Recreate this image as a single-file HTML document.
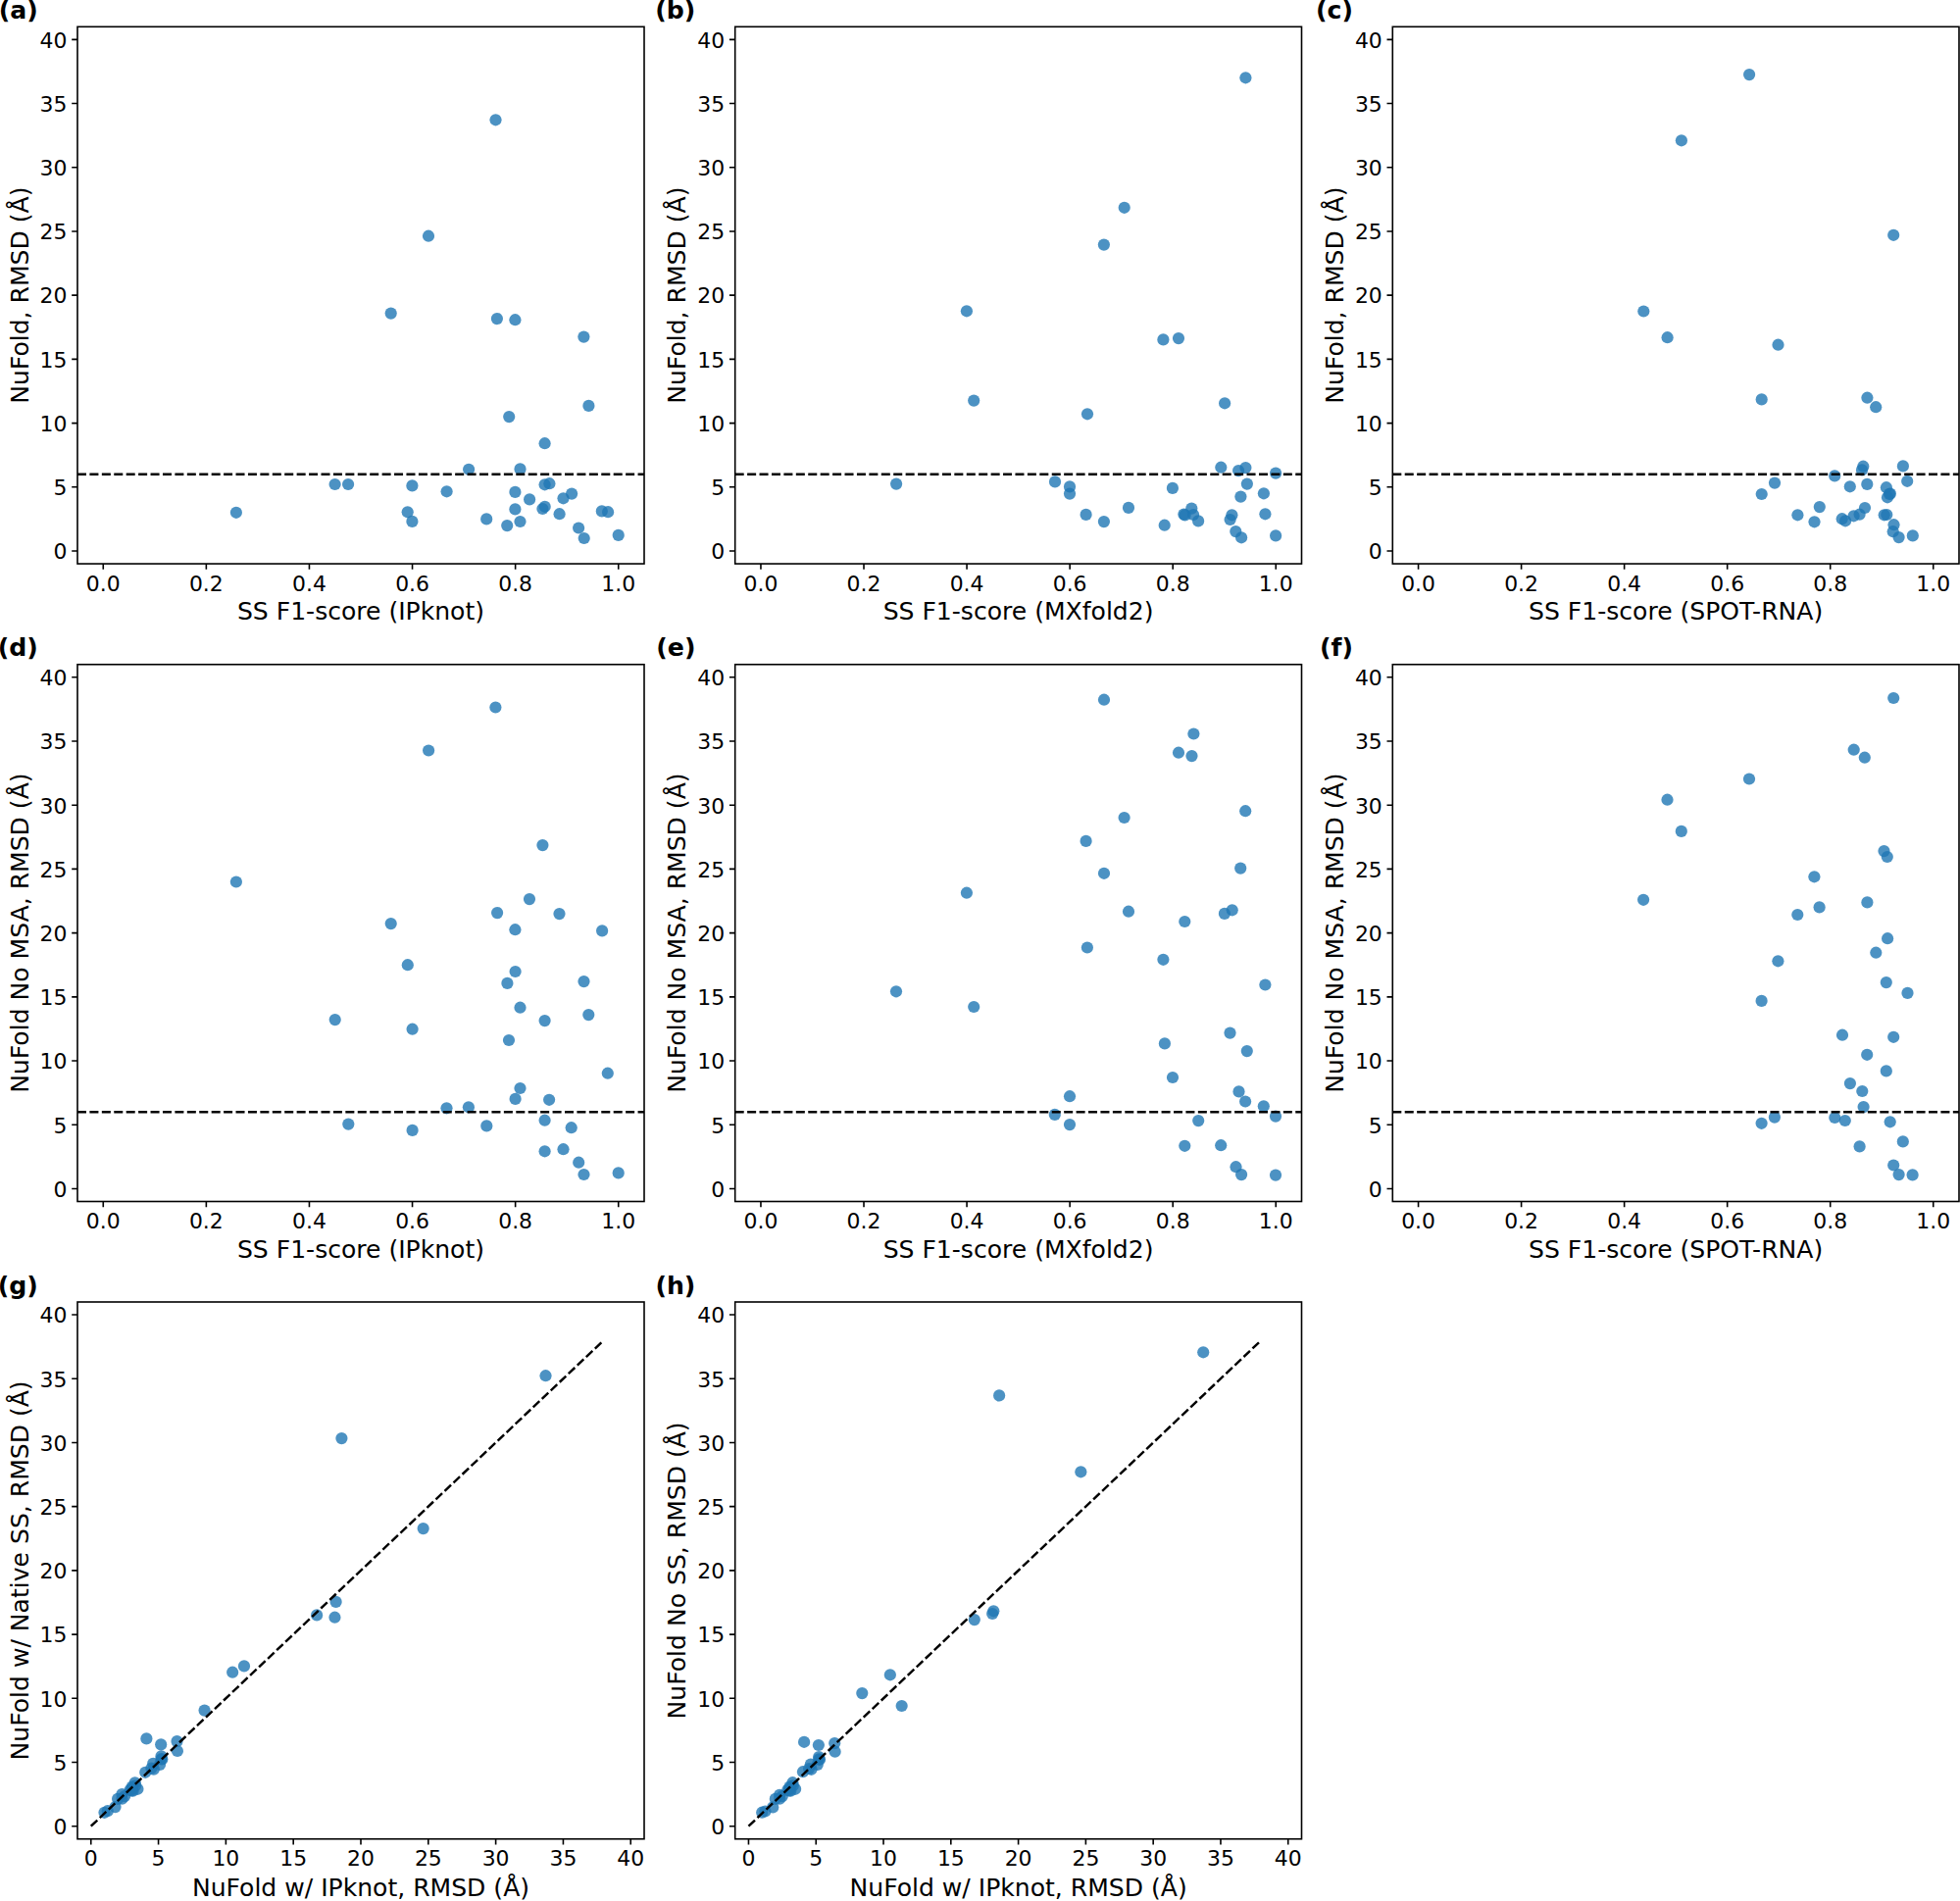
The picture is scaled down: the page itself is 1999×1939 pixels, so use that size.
<!DOCTYPE html>
<html lang="en"><head><meta charset="utf-8"><title>NuFold RMSD vs secondary structure F1-score</title>
<style>html,body{margin:0;padding:0;background:#fff}body{width:1999px;height:1939px;overflow:hidden}svg{display:block}
text{font-family:"DejaVu Sans","Liberation Sans",sans-serif;fill:#000}.t{font-size:21.9px}.l{font-size:25.07px}.p{font-size:25.2px;font-weight:bold}
.ax{fill:none;stroke:#000;stroke-width:1.6}.tk{stroke:#000;stroke-width:1.6}.d{fill:#1f77b4;fill-opacity:.8}.dl{stroke:#000;stroke-width:2.45;stroke-dasharray:9.0 3.425;fill:none}
</style></head><body>
<svg width="1999" height="1939" viewBox="0 0 1999 1939">
<rect width="1999" height="1939" fill="#fff"/>
<g id="panel-a">
<g class="d"><circle cx="505.5" cy="122.3" r="6.1"/><circle cx="437" cy="240.7" r="6.1"/><circle cx="398.7" cy="319.6" r="6.1"/><circle cx="506.9" cy="325.1" r="6.1"/><circle cx="525.4" cy="326.2" r="6.1"/><circle cx="595.4" cy="343.6" r="6.1"/><circle cx="600.4" cy="413.9" r="6.1"/><circle cx="519.2" cy="425.1" r="6.1"/><circle cx="555.6" cy="452.2" r="6.1"/><circle cx="478.1" cy="478.8" r="6.1"/><circle cx="530.5" cy="478.4" r="6.1"/><circle cx="555.6" cy="494.3" r="6.1"/><circle cx="560.4" cy="493.2" r="6.1"/><circle cx="525.4" cy="501.9" r="6.1"/><circle cx="583.1" cy="503.6" r="6.1"/><circle cx="574.5" cy="508.3" r="6.1"/><circle cx="540.1" cy="509.4" r="6.1"/><circle cx="555.7" cy="516.8" r="6.1"/><circle cx="553.4" cy="519" r="6.1"/><circle cx="525.4" cy="519.4" r="6.1"/><circle cx="570.6" cy="524.2" r="6.1"/><circle cx="613.8" cy="521.4" r="6.1"/><circle cx="620.1" cy="522.2" r="6.1"/><circle cx="496.2" cy="529.4" r="6.1"/><circle cx="530.5" cy="532" r="6.1"/><circle cx="517.2" cy="536.1" r="6.1"/><circle cx="590.1" cy="538.5" r="6.1"/><circle cx="595.7" cy="549" r="6.1"/><circle cx="630.7" cy="545.9" r="6.1"/><circle cx="240.9" cy="522.8" r="6.1"/><circle cx="341.6" cy="494" r="6.1"/><circle cx="355.1" cy="494" r="6.1"/><circle cx="420.4" cy="495.4" r="6.1"/><circle cx="455.6" cy="501.3" r="6.1"/><circle cx="415.7" cy="522.3" r="6.1"/><circle cx="420.4" cy="531.9" r="6.1"/></g>
<path class="dl" d="M79 483.76H657"/>
<path class="tk" d="M105.27 575.05v5.8M210.36 575.05v5.8M315.45 575.05v5.8M420.55 575.05v5.8M525.64 575.05v5.8M630.73 575.05v5.8M79 562.01h-5.8M79 496.8h-5.8M79 431.59h-5.8M79 366.38h-5.8M79 301.17h-5.8M79 235.97h-5.8M79 170.76h-5.8M79 105.55h-5.8M79 40.34h-5.8"/>
<rect class="ax" x="79" y="27.3" width="578" height="547.75"/>
<g class="t" text-anchor="middle"><text x="105.27" y="602.65">0.0</text><text x="210.36" y="602.65">0.2</text><text x="315.45" y="602.65">0.4</text><text x="420.55" y="602.65">0.6</text><text x="525.64" y="602.65">0.8</text><text x="630.73" y="602.65">1.0</text></g>
<g class="t" text-anchor="end"><text x="68.45" y="570.31">0</text><text x="68.45" y="505.1">5</text><text x="68.45" y="439.89">10</text><text x="68.45" y="374.68">15</text><text x="68.45" y="309.47">20</text><text x="68.45" y="244.27">25</text><text x="68.45" y="179.06">30</text><text x="68.45" y="113.85">35</text><text x="68.45" y="48.64">40</text></g>
<text class="l" text-anchor="middle" x="368" y="632.35">SS F1-score (IPknot)</text>
<text class="l" text-anchor="middle" transform="translate(28.6 301.17) rotate(-90)">NuFold, RMSD (Å)</text>
<text class="p" text-anchor="end" x="38.7" y="19.4">(a)</text>
</g>
<g id="panel-b">
<g class="d"><circle cx="1270.4" cy="79.3" r="6.1"/><circle cx="1146.7" cy="211.8" r="6.1"/><circle cx="1125.9" cy="249.6" r="6.1"/><circle cx="985.9" cy="317.3" r="6.1"/><circle cx="1186.4" cy="346.4" r="6.1"/><circle cx="1202" cy="345.1" r="6.1"/><circle cx="1109" cy="422.3" r="6.1"/><circle cx="1249.1" cy="411.3" r="6.1"/><circle cx="1245.3" cy="476.7" r="6.1"/><circle cx="1263.1" cy="480.1" r="6.1"/><circle cx="1270.4" cy="477.1" r="6.1"/><circle cx="1301.1" cy="482.6" r="6.1"/><circle cx="1076" cy="491.4" r="6.1"/><circle cx="1091" cy="496.4" r="6.1"/><circle cx="1091" cy="503.6" r="6.1"/><circle cx="1195.9" cy="497.9" r="6.1"/><circle cx="1271.9" cy="493.6" r="6.1"/><circle cx="1288.9" cy="503.3" r="6.1"/><circle cx="1265.4" cy="506.6" r="6.1"/><circle cx="1151" cy="517.9" r="6.1"/><circle cx="1107.6" cy="524.9" r="6.1"/><circle cx="1125.9" cy="532.1" r="6.1"/><circle cx="1215.3" cy="518.6" r="6.1"/><circle cx="1207.4" cy="524.6" r="6.1"/><circle cx="1208.6" cy="525.4" r="6.1"/><circle cx="1217.1" cy="525" r="6.1"/><circle cx="1222.1" cy="531.4" r="6.1"/><circle cx="1187.7" cy="535.7" r="6.1"/><circle cx="1256.4" cy="525.3" r="6.1"/><circle cx="1254.6" cy="530" r="6.1"/><circle cx="1290.4" cy="524.3" r="6.1"/><circle cx="1260.3" cy="542.1" r="6.1"/><circle cx="1266.1" cy="548.3" r="6.1"/><circle cx="1301.1" cy="546.4" r="6.1"/><circle cx="993.2" cy="408.6" r="6.1"/><circle cx="914.1" cy="493.6" r="6.1"/></g>
<path class="dl" d="M749.7 483.76H1327.5"/>
<path class="tk" d="M775.96 575.05v5.8M881.02 575.05v5.8M986.07 575.05v5.8M1091.13 575.05v5.8M1196.18 575.05v5.8M1301.24 575.05v5.8M749.7 562.01h-5.8M749.7 496.8h-5.8M749.7 431.59h-5.8M749.7 366.38h-5.8M749.7 301.17h-5.8M749.7 235.97h-5.8M749.7 170.76h-5.8M749.7 105.55h-5.8M749.7 40.34h-5.8"/>
<rect class="ax" x="749.7" y="27.3" width="577.8" height="547.75"/>
<g class="t" text-anchor="middle"><text x="775.96" y="602.65">0.0</text><text x="881.02" y="602.65">0.2</text><text x="986.07" y="602.65">0.4</text><text x="1091.13" y="602.65">0.6</text><text x="1196.18" y="602.65">0.8</text><text x="1301.24" y="602.65">1.0</text></g>
<g class="t" text-anchor="end"><text x="739.15" y="570.31">0</text><text x="739.15" y="505.1">5</text><text x="739.15" y="439.89">10</text><text x="739.15" y="374.68">15</text><text x="739.15" y="309.47">20</text><text x="739.15" y="244.27">25</text><text x="739.15" y="179.06">30</text><text x="739.15" y="113.85">35</text><text x="739.15" y="48.64">40</text></g>
<text class="l" text-anchor="middle" x="1038.6" y="632.35">SS F1-score (MXfold2)</text>
<text class="l" text-anchor="middle" transform="translate(699.3 301.17) rotate(-90)">NuFold, RMSD (Å)</text>
<text class="p" text-anchor="end" x="709.4" y="19.4">(b)</text>
</g>
<g id="panel-c">
<g class="d"><circle cx="1784.1" cy="76.1" r="6.1"/><circle cx="1714.9" cy="143.3" r="6.1"/><circle cx="1931.2" cy="239.8" r="6.1"/><circle cx="1676.3" cy="317.5" r="6.1"/><circle cx="1700.6" cy="344.2" r="6.1"/><circle cx="1813.5" cy="351.7" r="6.1"/><circle cx="1796.7" cy="407.4" r="6.1"/><circle cx="1904.4" cy="405.7" r="6.1"/><circle cx="1913.2" cy="415.2" r="6.1"/><circle cx="1900.3" cy="475.7" r="6.1"/><circle cx="1899" cy="479.4" r="6.1"/><circle cx="1940.9" cy="475.4" r="6.1"/><circle cx="1871.2" cy="485.4" r="6.1"/><circle cx="1810" cy="492.6" r="6.1"/><circle cx="1945.2" cy="490.8" r="6.1"/><circle cx="1904.3" cy="493.9" r="6.1"/><circle cx="1886.8" cy="496.3" r="6.1"/><circle cx="1923.9" cy="497.2" r="6.1"/><circle cx="1927.9" cy="503.6" r="6.1"/><circle cx="1927" cy="503.9" r="6.1"/><circle cx="1925" cy="507.3" r="6.1"/><circle cx="1796.7" cy="504" r="6.1"/><circle cx="1855.8" cy="517.1" r="6.1"/><circle cx="1902" cy="518" r="6.1"/><circle cx="1833.4" cy="525.3" r="6.1"/><circle cx="1850.5" cy="532.3" r="6.1"/><circle cx="1890.6" cy="526.3" r="6.1"/><circle cx="1896.6" cy="524.7" r="6.1"/><circle cx="1878.7" cy="529.2" r="6.1"/><circle cx="1882.1" cy="531.3" r="6.1"/><circle cx="1921.7" cy="525.3" r="6.1"/><circle cx="1924.3" cy="525" r="6.1"/><circle cx="1931.5" cy="535.2" r="6.1"/><circle cx="1930.7" cy="542.2" r="6.1"/><circle cx="1936.6" cy="548.1" r="6.1"/><circle cx="1950.8" cy="546.4" r="6.1"/></g>
<path class="dl" d="M1420.3 483.76H1998"/>
<path class="tk" d="M1446.56 575.05v5.8M1551.6 575.05v5.8M1656.63 575.05v5.8M1761.67 575.05v5.8M1866.7 575.05v5.8M1971.74 575.05v5.8M1420.3 562.01h-5.8M1420.3 496.8h-5.8M1420.3 431.59h-5.8M1420.3 366.38h-5.8M1420.3 301.17h-5.8M1420.3 235.97h-5.8M1420.3 170.76h-5.8M1420.3 105.55h-5.8M1420.3 40.34h-5.8"/>
<rect class="ax" x="1420.3" y="27.3" width="577.7" height="547.75"/>
<g class="t" text-anchor="middle"><text x="1446.56" y="602.65">0.0</text><text x="1551.6" y="602.65">0.2</text><text x="1656.63" y="602.65">0.4</text><text x="1761.67" y="602.65">0.6</text><text x="1866.7" y="602.65">0.8</text><text x="1971.74" y="602.65">1.0</text></g>
<g class="t" text-anchor="end"><text x="1409.75" y="570.31">0</text><text x="1409.75" y="505.1">5</text><text x="1409.75" y="439.89">10</text><text x="1409.75" y="374.68">15</text><text x="1409.75" y="309.47">20</text><text x="1409.75" y="244.27">25</text><text x="1409.75" y="179.06">30</text><text x="1409.75" y="113.85">35</text><text x="1409.75" y="48.64">40</text></g>
<text class="l" text-anchor="middle" x="1709.15" y="632.35">SS F1-score (SPOT-RNA)</text>
<text class="l" text-anchor="middle" transform="translate(1369.9 301.17) rotate(-90)">NuFold, RMSD (Å)</text>
<text class="p" text-anchor="end" x="1380" y="19.4">(c)</text>
</g>
<g id="panel-d">
<g class="d"><circle cx="505.4" cy="721.5" r="6.1"/><circle cx="437.1" cy="765.5" r="6.1"/><circle cx="553.4" cy="862.1" r="6.1"/><circle cx="540" cy="917.1" r="6.1"/><circle cx="507.1" cy="931.1" r="6.1"/><circle cx="570.5" cy="932.1" r="6.1"/><circle cx="525.4" cy="948.2" r="6.1"/><circle cx="614.1" cy="949.4" r="6.1"/><circle cx="398.7" cy="942.1" r="6.1"/><circle cx="415.8" cy="984.2" r="6.1"/><circle cx="525.6" cy="991" r="6.1"/><circle cx="517.4" cy="1002.9" r="6.1"/><circle cx="595.5" cy="1001.1" r="6.1"/><circle cx="530.5" cy="1027.7" r="6.1"/><circle cx="600.3" cy="1035.1" r="6.1"/><circle cx="555.6" cy="1041.1" r="6.1"/><circle cx="420.6" cy="1049.7" r="6.1"/><circle cx="519" cy="1061" r="6.1"/><circle cx="619.8" cy="1094.7" r="6.1"/><circle cx="530.5" cy="1110" r="6.1"/><circle cx="525.6" cy="1120.9" r="6.1"/><circle cx="560.1" cy="1121.8" r="6.1"/><circle cx="455.5" cy="1130.3" r="6.1"/><circle cx="477.9" cy="1129.3" r="6.1"/><circle cx="555.6" cy="1142.7" r="6.1"/><circle cx="496.3" cy="1148.4" r="6.1"/><circle cx="582.7" cy="1150.2" r="6.1"/><circle cx="420.6" cy="1152.9" r="6.1"/><circle cx="555.6" cy="1174.3" r="6.1"/><circle cx="574.5" cy="1172.2" r="6.1"/><circle cx="590.2" cy="1185.7" r="6.1"/><circle cx="595.5" cy="1198" r="6.1"/><circle cx="630.7" cy="1196.4" r="6.1"/><circle cx="240.9" cy="899.5" r="6.1"/><circle cx="341.7" cy="1040.1" r="6.1"/><circle cx="355.3" cy="1146.6" r="6.1"/></g>
<path class="dl" d="M79 1134.21H657"/>
<path class="tk" d="M105.27 1225.5v5.8M210.36 1225.5v5.8M315.45 1225.5v5.8M420.55 1225.5v5.8M525.64 1225.5v5.8M630.73 1225.5v5.8M79 1212.46h-5.8M79 1147.25h-5.8M79 1082.04h-5.8M79 1016.83h-5.8M79 951.62h-5.8M79 886.42h-5.8M79 821.21h-5.8M79 756h-5.8M79 690.79h-5.8"/>
<rect class="ax" x="79" y="677.75" width="578" height="547.75"/>
<g class="t" text-anchor="middle"><text x="105.27" y="1253.1">0.0</text><text x="210.36" y="1253.1">0.2</text><text x="315.45" y="1253.1">0.4</text><text x="420.55" y="1253.1">0.6</text><text x="525.64" y="1253.1">0.8</text><text x="630.73" y="1253.1">1.0</text></g>
<g class="t" text-anchor="end"><text x="68.45" y="1220.76">0</text><text x="68.45" y="1155.55">5</text><text x="68.45" y="1090.34">10</text><text x="68.45" y="1025.13">15</text><text x="68.45" y="959.92">20</text><text x="68.45" y="894.72">25</text><text x="68.45" y="829.51">30</text><text x="68.45" y="764.3">35</text><text x="68.45" y="699.09">40</text></g>
<text class="l" text-anchor="middle" x="368" y="1282.8">SS F1-score (IPknot)</text>
<text class="l" text-anchor="middle" transform="translate(28.6 951.62) rotate(-90)">NuFold No MSA, RMSD (Å)</text>
<text class="p" text-anchor="end" x="38.7" y="669.35">(d)</text>
</g>
<g id="panel-e">
<g class="d"><circle cx="1126" cy="713.7" r="6.1"/><circle cx="1217.4" cy="748.5" r="6.1"/><circle cx="1202" cy="767.7" r="6.1"/><circle cx="1215.5" cy="771.1" r="6.1"/><circle cx="1270.2" cy="827.2" r="6.1"/><circle cx="1146.6" cy="834" r="6.1"/><circle cx="1107.6" cy="857.9" r="6.1"/><circle cx="1265.2" cy="885.6" r="6.1"/><circle cx="1126" cy="890.8" r="6.1"/><circle cx="1151" cy="929.7" r="6.1"/><circle cx="1256.7" cy="928.3" r="6.1"/><circle cx="1248.9" cy="931.9" r="6.1"/><circle cx="1208.3" cy="940" r="6.1"/><circle cx="1108.9" cy="966.5" r="6.1"/><circle cx="1186.4" cy="978.8" r="6.1"/><circle cx="1290.4" cy="1004.5" r="6.1"/><circle cx="1254.5" cy="1053.6" r="6.1"/><circle cx="1187.9" cy="1064.4" r="6.1"/><circle cx="1271.8" cy="1072.1" r="6.1"/><circle cx="1196" cy="1099" r="6.1"/><circle cx="1263.5" cy="1113.4" r="6.1"/><circle cx="1091" cy="1118.2" r="6.1"/><circle cx="1270.1" cy="1123.5" r="6.1"/><circle cx="1288.8" cy="1128.3" r="6.1"/><circle cx="1075.8" cy="1136.9" r="6.1"/><circle cx="1301" cy="1138.6" r="6.1"/><circle cx="1222.2" cy="1143.1" r="6.1"/><circle cx="1091" cy="1147.1" r="6.1"/><circle cx="1208.3" cy="1168.8" r="6.1"/><circle cx="1245.2" cy="1168.2" r="6.1"/><circle cx="1260.5" cy="1190.2" r="6.1"/><circle cx="1266.1" cy="1198.1" r="6.1"/><circle cx="1301" cy="1198.6" r="6.1"/><circle cx="985.9" cy="910.7" r="6.1"/><circle cx="914" cy="1011.3" r="6.1"/><circle cx="993.2" cy="1027" r="6.1"/></g>
<path class="dl" d="M749.7 1134.21H1327.5"/>
<path class="tk" d="M775.96 1225.5v5.8M881.02 1225.5v5.8M986.07 1225.5v5.8M1091.13 1225.5v5.8M1196.18 1225.5v5.8M1301.24 1225.5v5.8M749.7 1212.46h-5.8M749.7 1147.25h-5.8M749.7 1082.04h-5.8M749.7 1016.83h-5.8M749.7 951.62h-5.8M749.7 886.42h-5.8M749.7 821.21h-5.8M749.7 756h-5.8M749.7 690.79h-5.8"/>
<rect class="ax" x="749.7" y="677.75" width="577.8" height="547.75"/>
<g class="t" text-anchor="middle"><text x="775.96" y="1253.1">0.0</text><text x="881.02" y="1253.1">0.2</text><text x="986.07" y="1253.1">0.4</text><text x="1091.13" y="1253.1">0.6</text><text x="1196.18" y="1253.1">0.8</text><text x="1301.24" y="1253.1">1.0</text></g>
<g class="t" text-anchor="end"><text x="739.15" y="1220.76">0</text><text x="739.15" y="1155.55">5</text><text x="739.15" y="1090.34">10</text><text x="739.15" y="1025.13">15</text><text x="739.15" y="959.92">20</text><text x="739.15" y="894.72">25</text><text x="739.15" y="829.51">30</text><text x="739.15" y="764.3">35</text><text x="739.15" y="699.09">40</text></g>
<text class="l" text-anchor="middle" x="1038.6" y="1282.8">SS F1-score (MXfold2)</text>
<text class="l" text-anchor="middle" transform="translate(699.3 951.62) rotate(-90)">NuFold No MSA, RMSD (Å)</text>
<text class="p" text-anchor="end" x="709.4" y="669.35">(e)</text>
</g>
<g id="panel-f">
<g class="d"><circle cx="1931.2" cy="712" r="6.1"/><circle cx="1890.7" cy="764.7" r="6.1"/><circle cx="1901.8" cy="772.7" r="6.1"/><circle cx="1784" cy="794.5" r="6.1"/><circle cx="1700.5" cy="815.7" r="6.1"/><circle cx="1714.8" cy="847.9" r="6.1"/><circle cx="1921.5" cy="868.1" r="6.1"/><circle cx="1924.8" cy="874" r="6.1"/><circle cx="1850.4" cy="894.3" r="6.1"/><circle cx="1676.1" cy="917.8" r="6.1"/><circle cx="1904.4" cy="920.4" r="6.1"/><circle cx="1855.6" cy="925.4" r="6.1"/><circle cx="1833.3" cy="933" r="6.1"/><circle cx="1925.1" cy="957.2" r="6.1"/><circle cx="1913.3" cy="971.7" r="6.1"/><circle cx="1813.4" cy="980.3" r="6.1"/><circle cx="1923.8" cy="1002.1" r="6.1"/><circle cx="1945.5" cy="1012.9" r="6.1"/><circle cx="1796.6" cy="1020.9" r="6.1"/><circle cx="1879" cy="1055.7" r="6.1"/><circle cx="1931.2" cy="1057.8" r="6.1"/><circle cx="1904.2" cy="1075.8" r="6.1"/><circle cx="1923.8" cy="1092.4" r="6.1"/><circle cx="1886.9" cy="1105.1" r="6.1"/><circle cx="1899.3" cy="1113" r="6.1"/><circle cx="1900.6" cy="1129.1" r="6.1"/><circle cx="1809.9" cy="1139.6" r="6.1"/><circle cx="1796.6" cy="1145.8" r="6.1"/><circle cx="1871.3" cy="1140" r="6.1"/><circle cx="1881.8" cy="1143" r="6.1"/><circle cx="1927.7" cy="1144.3" r="6.1"/><circle cx="1940.8" cy="1164.4" r="6.1"/><circle cx="1896.6" cy="1169.4" r="6.1"/><circle cx="1931.2" cy="1188.5" r="6.1"/><circle cx="1936.6" cy="1198.1" r="6.1"/><circle cx="1950.6" cy="1198.4" r="6.1"/></g>
<path class="dl" d="M1420.3 1134.21H1998"/>
<path class="tk" d="M1446.56 1225.5v5.8M1551.6 1225.5v5.8M1656.63 1225.5v5.8M1761.67 1225.5v5.8M1866.7 1225.5v5.8M1971.74 1225.5v5.8M1420.3 1212.46h-5.8M1420.3 1147.25h-5.8M1420.3 1082.04h-5.8M1420.3 1016.83h-5.8M1420.3 951.62h-5.8M1420.3 886.42h-5.8M1420.3 821.21h-5.8M1420.3 756h-5.8M1420.3 690.79h-5.8"/>
<rect class="ax" x="1420.3" y="677.75" width="577.7" height="547.75"/>
<g class="t" text-anchor="middle"><text x="1446.56" y="1253.1">0.0</text><text x="1551.6" y="1253.1">0.2</text><text x="1656.63" y="1253.1">0.4</text><text x="1761.67" y="1253.1">0.6</text><text x="1866.7" y="1253.1">0.8</text><text x="1971.74" y="1253.1">1.0</text></g>
<g class="t" text-anchor="end"><text x="1409.75" y="1220.76">0</text><text x="1409.75" y="1155.55">5</text><text x="1409.75" y="1090.34">10</text><text x="1409.75" y="1025.13">15</text><text x="1409.75" y="959.92">20</text><text x="1409.75" y="894.72">25</text><text x="1409.75" y="829.51">30</text><text x="1409.75" y="764.3">35</text><text x="1409.75" y="699.09">40</text></g>
<text class="l" text-anchor="middle" x="1709.15" y="1282.8">SS F1-score (SPOT-RNA)</text>
<text class="l" text-anchor="middle" transform="translate(1369.9 951.62) rotate(-90)">NuFold No MSA, RMSD (Å)</text>
<text class="p" text-anchor="end" x="1380" y="669.35">(f)</text>
</g>
<g id="panel-g">
<g class="d"><circle cx="556.51" cy="1403.2" r="6.1"/><circle cx="431.64" cy="1559.1" r="6.1"/><circle cx="348.42" cy="1467.1" r="6.1"/><circle cx="342.62" cy="1633.9" r="6.1"/><circle cx="341.46" cy="1649.7" r="6.1"/><circle cx="323.11" cy="1647.4" r="6.1"/><circle cx="248.97" cy="1699.4" r="6.1"/><circle cx="237.15" cy="1705.7" r="6.1"/><circle cx="208.57" cy="1744.6" r="6.1"/><circle cx="180.52" cy="1776.1" r="6.1"/><circle cx="180.94" cy="1786" r="6.1"/><circle cx="164.17" cy="1779.4" r="6.1"/><circle cx="165.33" cy="1794.5" r="6.1"/><circle cx="156.15" cy="1798.9" r="6.1"/><circle cx="154.36" cy="1803.7" r="6.1"/><circle cx="149.4" cy="1773.4" r="6.1"/><circle cx="148.24" cy="1807.8" r="6.1"/><circle cx="140.44" cy="1824.8" r="6.1"/><circle cx="138.12" cy="1821.3" r="6.1"/><circle cx="137.7" cy="1818.3" r="6.1"/><circle cx="132.63" cy="1825.8" r="6.1"/><circle cx="135.59" cy="1826.7" r="6.1"/><circle cx="134.74" cy="1822.6" r="6.1"/><circle cx="127.15" cy="1832.1" r="6.1"/><circle cx="124.41" cy="1830.1" r="6.1"/><circle cx="120.08" cy="1834.9" r="6.1"/><circle cx="117.55" cy="1843.1" r="6.1"/><circle cx="106.48" cy="1848.8" r="6.1"/><circle cx="109.75" cy="1847.2" r="6.1"/><circle cx="134.11" cy="1826.4" r="6.1"/><circle cx="164.48" cy="1791.4" r="6.1"/><circle cx="164.48" cy="1794.2" r="6.1"/><circle cx="163.01" cy="1799.9" r="6.1"/><circle cx="156.79" cy="1804.6" r="6.1"/><circle cx="134.64" cy="1824.2" r="6.1"/><circle cx="124.51" cy="1834.6" r="6.1"/></g>
<path class="dl" d="M92.76 1862.71L613.93 1368.82"/>
<path class="tk" d="M92.76 1875.75v5.8M161.57 1875.75v5.8M230.38 1875.75v5.8M299.19 1875.75v5.8M368 1875.75v5.8M436.81 1875.75v5.8M505.62 1875.75v5.8M574.43 1875.75v5.8M643.24 1875.75v5.8M79 1862.71h-5.8M79 1797.5h-5.8M79 1732.29h-5.8M79 1667.08h-5.8M79 1601.88h-5.8M79 1536.67h-5.8M79 1471.46h-5.8M79 1406.25h-5.8M79 1341.04h-5.8"/>
<rect class="ax" x="79" y="1328" width="578" height="547.75"/>
<g class="t" text-anchor="middle"><text x="92.76" y="1903.35">0</text><text x="161.57" y="1903.35">5</text><text x="230.38" y="1903.35">10</text><text x="299.19" y="1903.35">15</text><text x="368" y="1903.35">20</text><text x="436.81" y="1903.35">25</text><text x="505.62" y="1903.35">30</text><text x="574.43" y="1903.35">35</text><text x="643.24" y="1903.35">40</text></g>
<g class="t" text-anchor="end"><text x="68.45" y="1871.01">0</text><text x="68.45" y="1805.8">5</text><text x="68.45" y="1740.59">10</text><text x="68.45" y="1675.38">15</text><text x="68.45" y="1610.17">20</text><text x="68.45" y="1544.97">25</text><text x="68.45" y="1479.76">30</text><text x="68.45" y="1414.55">35</text><text x="68.45" y="1349.34">40</text></g>
<text class="l" text-anchor="middle" x="368" y="1934.35">NuFold w/ IPknot, RMSD (Å)</text>
<text class="l" text-anchor="middle" transform="translate(28.6 1601.88) rotate(-90)">NuFold w/ Native SS, RMSD (Å)</text>
<text class="p" text-anchor="end" x="38.7" y="1319.6">(g)</text>
</g>
<g id="panel-h">
<g class="d"><circle cx="1227.21" cy="1379.3" r="6.1"/><circle cx="1102.34" cy="1501.3" r="6.1"/><circle cx="1019.12" cy="1423.4" r="6.1"/><circle cx="1013.32" cy="1643.3" r="6.1"/><circle cx="1012.16" cy="1646" r="6.1"/><circle cx="993.81" cy="1652.1" r="6.1"/><circle cx="919.67" cy="1740" r="6.1"/><circle cx="907.85" cy="1708.3" r="6.1"/><circle cx="879.27" cy="1727.1" r="6.1"/><circle cx="851.22" cy="1778.1" r="6.1"/><circle cx="851.64" cy="1786.7" r="6.1"/><circle cx="834.87" cy="1780" r="6.1"/><circle cx="836.03" cy="1794.8" r="6.1"/><circle cx="826.85" cy="1799.5" r="6.1"/><circle cx="825.06" cy="1804" r="6.1"/><circle cx="820.1" cy="1776.8" r="6.1"/><circle cx="818.94" cy="1807.2" r="6.1"/><circle cx="811.14" cy="1824.8" r="6.1"/><circle cx="808.82" cy="1821.3" r="6.1"/><circle cx="808.4" cy="1818.2" r="6.1"/><circle cx="803.33" cy="1825.8" r="6.1"/><circle cx="806.29" cy="1826.7" r="6.1"/><circle cx="805.44" cy="1822.6" r="6.1"/><circle cx="797.85" cy="1832.1" r="6.1"/><circle cx="795.11" cy="1830.8" r="6.1"/><circle cx="790.78" cy="1834.9" r="6.1"/><circle cx="788.25" cy="1843.4" r="6.1"/><circle cx="777.18" cy="1848.7" r="6.1"/><circle cx="780.45" cy="1847.5" r="6.1"/><circle cx="804.81" cy="1826.4" r="6.1"/><circle cx="835.18" cy="1792" r="6.1"/><circle cx="835.18" cy="1794.4" r="6.1"/><circle cx="833.71" cy="1799.9" r="6.1"/><circle cx="827.49" cy="1804.8" r="6.1"/><circle cx="805.34" cy="1824.2" r="6.1"/><circle cx="795.21" cy="1834.6" r="6.1"/></g>
<path class="dl" d="M763.46 1862.71L1284.44 1368.82"/>
<path class="tk" d="M763.46 1875.75v5.8M832.24 1875.75v5.8M901.03 1875.75v5.8M969.81 1875.75v5.8M1038.6 1875.75v5.8M1107.39 1875.75v5.8M1176.17 1875.75v5.8M1244.96 1875.75v5.8M1313.74 1875.75v5.8M749.7 1862.71h-5.8M749.7 1797.5h-5.8M749.7 1732.29h-5.8M749.7 1667.08h-5.8M749.7 1601.88h-5.8M749.7 1536.67h-5.8M749.7 1471.46h-5.8M749.7 1406.25h-5.8M749.7 1341.04h-5.8"/>
<rect class="ax" x="749.7" y="1328" width="577.8" height="547.75"/>
<g class="t" text-anchor="middle"><text x="763.46" y="1903.35">0</text><text x="832.24" y="1903.35">5</text><text x="901.03" y="1903.35">10</text><text x="969.81" y="1903.35">15</text><text x="1038.6" y="1903.35">20</text><text x="1107.39" y="1903.35">25</text><text x="1176.17" y="1903.35">30</text><text x="1244.96" y="1903.35">35</text><text x="1313.74" y="1903.35">40</text></g>
<g class="t" text-anchor="end"><text x="739.15" y="1871.01">0</text><text x="739.15" y="1805.8">5</text><text x="739.15" y="1740.59">10</text><text x="739.15" y="1675.38">15</text><text x="739.15" y="1610.17">20</text><text x="739.15" y="1544.97">25</text><text x="739.15" y="1479.76">30</text><text x="739.15" y="1414.55">35</text><text x="739.15" y="1349.34">40</text></g>
<text class="l" text-anchor="middle" x="1038.6" y="1934.35">NuFold w/ IPknot, RMSD (Å)</text>
<text class="l" text-anchor="middle" transform="translate(699.3 1601.88) rotate(-90)">NuFold No SS, RMSD (Å)</text>
<text class="p" text-anchor="end" x="709.4" y="1319.6">(h)</text>
</g>
</svg></body></html>
